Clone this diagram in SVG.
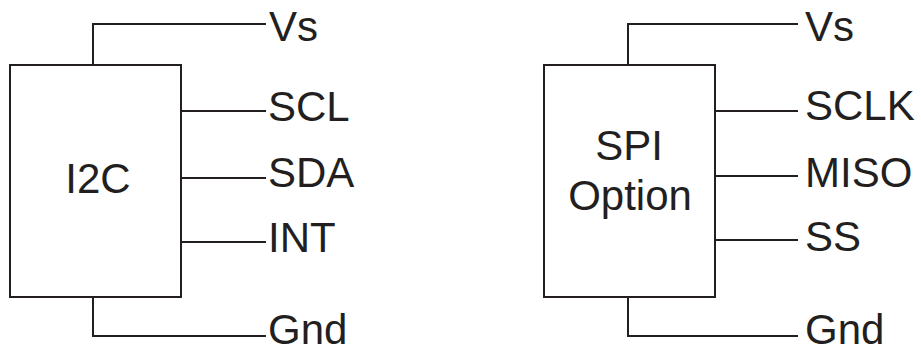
<svg xmlns="http://www.w3.org/2000/svg" width="921" height="354" viewBox="0 0 921 354">
<style>
.box{fill:#fff;stroke:#231f20;stroke-width:2}
.w{fill:none;stroke:#231f20;stroke-width:2}
text{font-family:"Liberation Sans",Arial,sans-serif;font-size:42px;fill:#231f20}
.c{text-anchor:middle}
</style>
<rect width="921" height="354" fill="#fff"/>
<g id="connectors">
<path class="w" d="M93,65 V24 H266"/>
<path class="w" d="M181,111 H266"/>
<path class="w" d="M181,178 H266"/>
<path class="w" d="M181,242 H266"/>
<path class="w" d="M93,297 V336 H266"/>
<path class="w" d="M628,65 V24 H798"/>
<path class="w" d="M715,111 H798"/>
<path class="w" d="M715,176 H798"/>
<path class="w" d="M715,240 H798"/>
<path class="w" d="M628,297 V336 H798"/>
</g>
<g id="i2c">
<rect class="box" x="10" y="65" width="171" height="232"/>
<text class="c" x="98" y="193">I2C</text>
</g>
<g id="spi">
<rect class="box" x="544" y="65" width="171" height="232"/>
<text class="c" x="629" y="160">SPI</text>
<text class="c" x="630" y="210">Option</text>
</g>
<g id="labels-left">
<text x="269" y="41">Vs</text>
<text x="268" y="121">SCL</text>
<text x="268" y="187">SDA</text>
<text x="268" y="252">INT</text>
<text x="268" y="344">Gnd</text>
</g>
<g id="labels-right">
<text x="805" y="41">Vs</text>
<text x="805" y="120">SCLK</text>
<text x="805" y="187">MISO</text>
<text x="805" y="251">SS</text>
<text x="805" y="344">Gnd</text>
</g>
</svg>
